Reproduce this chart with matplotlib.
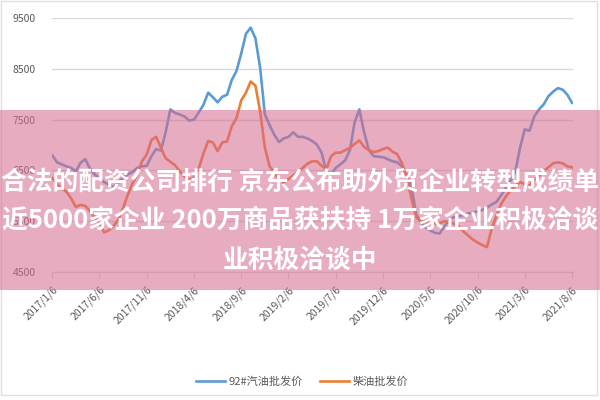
import numpy as np
import matplotlib
matplotlib.use("Agg")
import matplotlib.pyplot as plt
from matplotlib.patches import Rectangle

plt.rcParams["font.family"] = ["Noto Sans CJK SC", "DejaVu Sans"]

# semi-monthly wholesale prices, 2017/1/6 .. 2021/8/6
gas = [6800, 6660, 6620, 6580, 6550, 6480, 6650, 6720, 6530, 6420,
       6340, 6270, 6220, 6170, 6260, 6360, 6420, 6470, 6550, 6580,
       6590, 6780, 6920, 6890, 7250, 7700, 7630, 7600, 7560, 7480,
       7500, 7640, 7790, 8030, 7940, 7840, 7950, 7990, 8280, 8460,
       8800, 9190, 9310, 9100, 8520, 7600, 7390, 7200, 7060, 7130,
       7160, 7250, 7160, 7160, 7130, 7080, 7010, 6850, 6480, 6420,
       6550, 6620, 6700, 6900, 7450, 7700, 7250, 6900, 6780, 6770,
       6760, 6720, 6680, 6660, 6580, 6420, 6200, 5640, 5480, 5380,
       5320, 5270, 5260, 5400, 5520, 5580, 5600, 5620, 5650, 5670,
       5690, 5720, 5770, 5830, 5880, 6010, 6150, 6300, 6480, 6950,
       7310, 7280, 7560, 7700, 7800, 7960, 8050, 8120, 8090, 7990,
       7830]
diesel = [6350, 6230, 6150, 6080, 5950, 5780, 5820, 5800, 5700, 5580,
          5470, 5280, 5320, 5410, 5530, 5760, 6020, 6240, 6420, 6680,
          6810, 7100, 7160, 6950, 6740, 6670, 6600, 6480, 6380, 6320,
          6360, 6540, 6830, 7080, 7050, 6880, 7050, 7070, 7370, 7530,
          7880, 8030, 8250, 8170, 7660, 6950, 6580, 6450, 6320, 6260,
          6330, 6400, 6470, 6550, 6630, 6680, 6680, 6590, 6520, 6780,
          6850, 6850, 6900, 6940, 7020, 7090, 6960, 6900, 6860, 6880,
          6920, 6950, 6870, 6820, 6640, 6380, 5950, 5580, 5500, 5480,
          5450, 5450, 5460, 5500, 5480, 5450, 5400, 5300, 5220, 5140,
          5080, 5030, 4990, 5350, 5610, 5840, 5990, 6100, 6200, 6270,
          6230, 6200, 6320, 6390, 6490, 6560, 6640, 6660, 6640, 6580,
          6560]
tick_labels = ["2017/1/6", "2017/6/6", "2017/11/6", "2018/4/6", "2018/9/6",
               "2019/2/6", "2019/7/6", "2019/12/6", "2020/5/6", "2020/10/6",
               "2021/3/6", "2021/8/6"]
y_ticks = [4500, 5500, 6500, 7500, 8500, 9500]
series_names = ["92#汽油批发价", "柴油批发价"]
headline = ["合法的配资公司排行 京东公布助外贸企业转型成绩单",
            "近5000家企业 200万商品获扶持 1万家企业积极洽谈",
            "业积极洽谈中"]

x = np.arange(len(gas))
tick_pos = np.arange(0, len(gas), 10)

fig = plt.figure(figsize=(6, 4), dpi=100)
ax = fig.add_axes([0.087, 0.32, 0.868, 0.635])

ax.plot(x, gas, color="#5B9BD5", lw=1.9, label=series_names[0])
ax.plot(x, diesel, color="#ED7D31", lw=1.9, label=series_names[1])

ax.set_xlim(0, 110.2)
ax.set_ylim(4500, 9500)
ax.set_yticks(y_ticks)
ax.yaxis.grid(True, color="#D9D9D9", lw=1)
ax.set_axisbelow(True)
for s in ["left", "right", "top"]:
    ax.spines[s].set_visible(False)
ax.spines["bottom"].set_color("#D9D9D9")
ax.tick_params(axis="y", length=0, pad=12, labelsize=7.5, labelcolor="#595959")
ax.set_xticks(tick_pos)
ax.set_xticklabels(tick_labels, rotation=45, ha="right", rotation_mode="anchor")
ax.tick_params(axis="x", length=4, color="#D9D9D9", pad=5, labelsize=7.5,
               labelcolor="#595959")

ax.legend(loc="upper center", bbox_to_anchor=(0.48, -0.37), ncol=2, frameon=False,
          fontsize=8, labelcolor="#595959", handlelength=2.6, columnspacing=1.6,
          handletextpad=0.3)

# chart border
fig.add_artist(Rectangle((0.002, 0.012), 0.993, 0.985, transform=fig.transFigure,
                         fill=False, edgecolor="#E0E0E0", lw=1, zorder=4))

# pink banner with headline
fig.add_artist(Rectangle((0, 0.275), 1, 0.45, transform=fig.transFigure,
                         facecolor="#D66B8F", alpha=0.56, edgecolor="none", zorder=5))
for y, line in zip([0.546, 0.45, 0.349], headline):
    fig.text(0.5, y, line, ha="center", va="center", color="white",
             fontsize=18.5, fontweight="bold", zorder=6)

fig.savefig("out.png", dpi=100)
